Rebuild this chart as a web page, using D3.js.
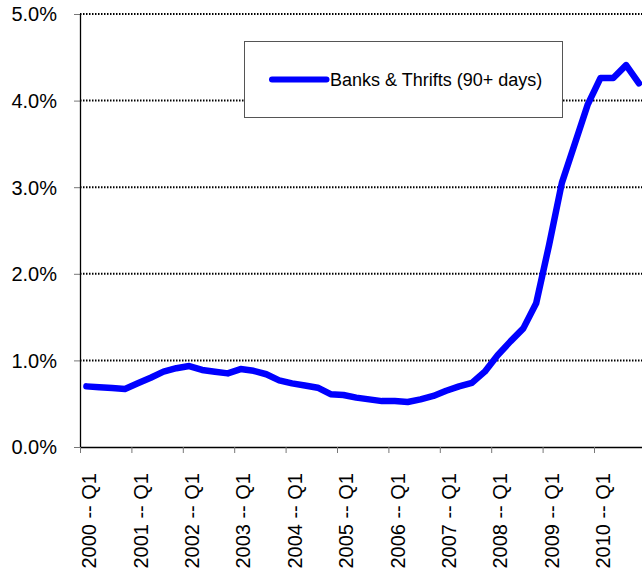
<!DOCTYPE html>
<html>
<head>
<meta charset="utf-8">
<script src="https://cdn.jsdelivr.net/npm/d3@7"></script>
<style>
  html, body { margin: 0; padding: 0; background: #fff; overflow: hidden; }
  svg { display: block; font-family: "Liberation Sans", Arial, sans-serif; }
</style>
</head>
<body>
<svg id="chart" width="642" height="577"></svg>
<script>
// Quarterly delinquency rate, banks & thrifts, loans 90+ days past due (%)
const years = ["2000", "2001", "2002", "2003", "2004", "2005",
               "2006", "2007", "2008", "2009", "2010"];
const quarters = ["Q1", "Q2", "Q3", "Q4"];
const categories = years.flatMap(yr => quarters.map(q => `${yr} -- ${q}`));

const seriesName = "Banks & Thrifts (90+ days)";
const delinquency = [
  0.70, 0.69, 0.68, 0.67,   // 2000
  0.735, 0.80, 0.87, 0.91,  // 2001
  0.935, 0.89, 0.87, 0.85,  // 2002
  0.90, 0.88, 0.84, 0.77,   // 2003
  0.735, 0.71, 0.685, 0.61, // 2004
  0.60, 0.57, 0.55, 0.53,   // 2005
  0.53, 0.52, 0.55, 0.59,   // 2006
  0.65, 0.70, 0.74, 0.87,   // 2007
  1.06, 1.22, 1.37, 1.66,   // 2008
  2.33, 3.05, 3.50, 3.95,   // 2009
  4.26, 4.26, 4.41, 4.20    // 2010
];
const yTicks = [0, 1, 2, 3, 4, 5];

const svg = d3.select("#chart");
const W = 642;
const plotLeft = 80, plotTop = 14, plotBottom = 447, step = 12.85;

const x = d3.scaleBand()
  .domain(categories)
  .range([plotLeft, plotLeft + categories.length * step])
  .paddingInner(0).paddingOuter(0);
const y = d3.scaleLinear().domain([0, 5]).range([plotBottom, plotTop]);

// dotted horizontal gridlines
svg.append("g").selectAll("line")
  .data(yTicks.filter(d => d > 0))
  .join("line")
  .attr("x1", plotLeft).attr("x2", W)
  .attr("y1", d => y(d)).attr("y2", d => y(d))
  .attr("stroke", "#000").attr("stroke-width", 2)
  .attr("stroke-dasharray", "1.5,1.5");

// y axis
const yAxis = svg.append("g")
  .attr("transform", `translate(${plotLeft},0)`)
  .call(d3.axisLeft(y).tickValues(yTicks)
    .tickFormat(d => d.toFixed(1) + "%").tickSize(6).tickPadding(17));
yAxis.select(".domain").remove();
yAxis.selectAll(".tick line").attr("stroke", "#777").attr("stroke-width", 1);
yAxis.selectAll(".tick text")
  .attr("font-size", 20).attr("fill", "#000")
  .attr("font-family", "Liberation Sans, Arial, sans-serif")
  .attr("dy", "0.34em");

// axis lines
svg.append("line")
  .attr("x1", plotLeft + 0.5).attr("x2", plotLeft + 0.5)
  .attr("y1", plotTop).attr("y2", plotBottom)
  .attr("stroke", "#000").attr("stroke-width", 1.3);
svg.append("line")
  .attr("x1", plotLeft).attr("x2", W)
  .attr("y1", plotBottom + 0.5).attr("y2", plotBottom + 0.5)
  .attr("stroke", "#000").attr("stroke-width", 1.3);

// x ticks at category boundaries, one per year
const yearStarts = categories.filter((c, i) => i % 4 === 0);
svg.append("g").selectAll("line")
  .data(yearStarts)
  .join("line")
  .attr("x1", d => x(d) + 0.5).attr("x2", d => x(d) + 0.5)
  .attr("y1", plotBottom).attr("y2", plotBottom + 6)
  .attr("stroke", "#777").attr("stroke-width", 1);

// rotated x labels centred on their category
svg.append("g").selectAll("text")
  .data(yearStarts)
  .join("text")
  .attr("transform", d => `translate(${x(d) + x.bandwidth() / 2 + 2.8},473) rotate(-90)`)
  .attr("text-anchor", "end")
  .attr("dy", "0.35em")
  .attr("font-size", 20)
  .attr("fill", "#000")
  .text(d => d);

// series line
const line = d3.line()
  .x((d, i) => x(categories[i]) + x.bandwidth() / 2)
  .y(d => y(d));
svg.append("path")
  .datum(delinquency)
  .attr("d", line)
  .attr("fill", "none")
  .attr("stroke", "#0000ff")
  .attr("stroke-width", 6.5)
  .attr("stroke-linejoin", "round")
  .attr("stroke-linecap", "round");

// legend
const lg = svg.append("g");
lg.append("rect")
  .attr("x", 244.5).attr("y", 41.5).attr("width", 318).attr("height", 76)
  .attr("fill", "#fff").attr("stroke", "#555").attr("stroke-width", 1);
lg.append("line")
  .attr("x1", 272).attr("x2", 326.5).attr("y1", 79.5).attr("y2", 79.5)
  .attr("stroke", "#0000ff").attr("stroke-width", 6)
  .attr("stroke-linecap", "round");
lg.append("text")
  .attr("x", 330).attr("y", 86)
  .attr("font-size", 18).attr("fill", "#000")
  .text(seriesName);
</script>
</body>
</html>
